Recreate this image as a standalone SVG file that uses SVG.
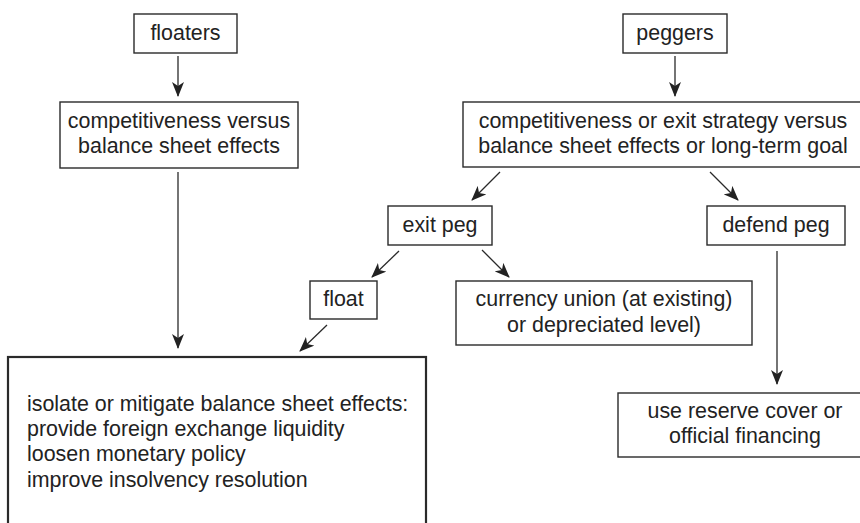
<svg xmlns="http://www.w3.org/2000/svg" width="860" height="523" viewBox="0 0 860 523">
<defs>
<style>
.box{fill:#fff;stroke:#2a2a2a;stroke-width:1.4}
.bigbox{fill:#fff;stroke:#2a2a2a;stroke-width:2.2}
.t{font-family:"Liberation Sans",Arial,sans-serif;font-size:21.4px;fill:#222}
.c{text-anchor:middle}
.conn{stroke:#2a2a2a;stroke-width:1.3;fill:none;marker-end:url(#ah)}
</style>
<marker id="ah" markerUnits="userSpaceOnUse" markerWidth="15" markerHeight="12" viewBox="0 0 15 12" refX="14" refY="6" orient="auto">
<path d="M0,0 L15,6 L0,12 L4,6 z" fill="#222"/>
</marker>
</defs>
<rect width="860" height="523" fill="#fff"/>
<g id="connectors">
<line class="conn" x1="178" y1="56" x2="178" y2="96"/>
<line class="conn" x1="178" y1="172" x2="178" y2="348"/>
<line class="conn" x1="675" y1="56" x2="675" y2="96"/>
<line class="conn" x1="500" y1="172" x2="472" y2="200"/>
<line class="conn" x1="710" y1="172" x2="738" y2="200"/>
<line class="conn" x1="399" y1="251" x2="372" y2="277"/>
<line class="conn" x1="482" y1="250" x2="509" y2="277"/>
<line class="conn" x1="327" y1="325" x2="300" y2="351"/>
<line class="conn" x1="777" y1="251" x2="777" y2="384"/>
</g>
<g id="floaters">
<rect class="box" x="134" y="14" width="103" height="39"/>
<text class="t c" x="185.5" y="40">floaters</text>
</g>
<g id="competitiveness-floaters">
<rect class="box" x="60" y="102" width="238" height="66"/>
<text class="t c" x="179" y="128">competitiveness versus</text>
<text class="t c" x="179" y="153">balance sheet effects</text>
</g>
<g id="peggers">
<rect class="box" x="623" y="14" width="104" height="39"/>
<text class="t c" x="675" y="40">peggers</text>
</g>
<g id="competitiveness-peggers">
<rect class="box" x="463" y="102" width="402" height="65"/>
<text class="t c" x="663" y="128">competitiveness or exit strategy versus</text>
<text class="t c" x="663" y="153">balance sheet effects or long-term goal</text>
</g>
<g id="exit-peg">
<rect class="box" x="388" y="206" width="104" height="39"/>
<text class="t c" x="440" y="232">exit peg</text>
</g>
<g id="defend-peg">
<rect class="box" x="707" y="206" width="138" height="39"/>
<text class="t c" x="776" y="232">defend peg</text>
</g>
<g id="float">
<rect class="box" x="310" y="281" width="67" height="38"/>
<text class="t c" x="343.5" y="306">float</text>
</g>
<g id="currency-union">
<rect class="box" x="456" y="281" width="296" height="64"/>
<text class="t c" x="604" y="306">currency union (at existing)</text>
<text class="t c" x="604" y="332">or depreciated level)</text>
</g>
<g id="isolate">
<rect class="bigbox" x="8" y="357" width="418" height="180"/>
<text class="t" x="27" y="411">isolate or mitigate balance sheet effects:</text>
<text class="t" x="27" y="436">provide foreign exchange liquidity</text>
<text class="t" x="27" y="461">loosen monetary policy</text>
<text class="t" x="27" y="487">improve insolvency resolution</text>
</g>
<g id="use-reserve">
<rect class="box" x="618" y="393" width="254" height="64"/>
<text class="t c" x="745" y="418">use reserve cover or</text>
<text class="t c" x="745" y="443">official financing</text>
</g>
</svg>
